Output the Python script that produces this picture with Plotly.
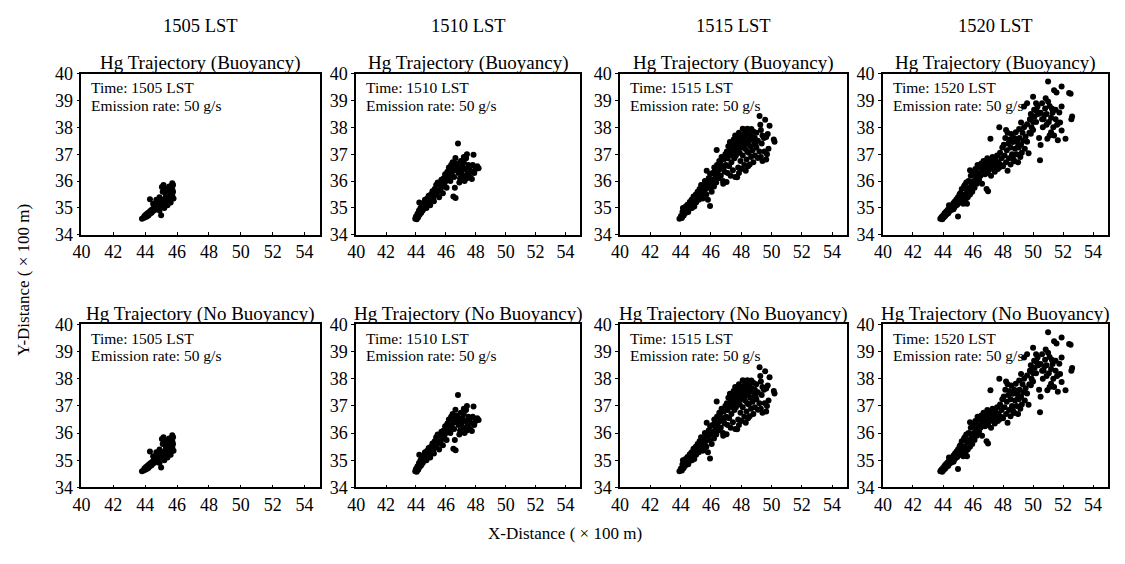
import plotly.graph_objects as go

W, H = 1125, 564

times = ["1505", "1510", "1515", "1520"]
row_titles = ["Hg Trajectory (Buoyancy)", "Hg Trajectory (No Buoyancy)"]
x_ticks = [40, 42, 44, 46, 48, 50, 52, 54]
y_ticks = [34, 35, 36, 37, 38, 39, 40]

# ---- 1505 LST point cloud (x, y in 100 m) ----
x_1505 = [43.8, 43.9, 44.0, 43.95, 44.1, 44.05, 44.2, 44.15, 44.3, 44.25, 44.4, 44.35, 44.5, 44.45, 44.6,
          44.55, 44.7, 44.65, 44.8, 44.75, 44.9, 44.85, 45.0, 44.95, 45.1, 45.05, 45.2, 45.15, 45.3, 45.25,
          45.4, 45.35, 45.5, 45.45, 45.6, 45.55, 45.7, 45.65, 45.75, 45.7, 45.6, 45.75, 45.7, 45.5, 45.35,
          45.2, 45.05, 45.1, 44.9, 44.7, 44.3, 44.5, 45.0, 45.6, 45.4, 45.2, 44.9, 45.5, 45.3, 45.78, 45.15]
y_1505 = [34.6, 34.62, 34.65, 34.7, 34.68, 34.75, 34.72, 34.8, 34.78, 34.85, 34.82, 34.9, 34.88, 34.95, 34.92,
          35.0, 34.98, 35.05, 35.02, 35.1, 35.08, 35.15, 35.12, 35.2, 35.18, 35.25, 35.22, 35.3, 35.28, 35.35,
          35.32, 35.4, 35.38, 35.45, 35.42, 35.5, 35.48, 35.55, 35.6, 35.7, 35.75, 35.85, 35.92, 35.8, 35.65,
          35.75, 35.78, 35.6, 35.4, 35.3, 35.32, 35.15, 34.73, 35.2, 35.1, 35.0, 34.9, 35.6, 35.5, 35.35, 35.85]

# ---- 1510 LST ----
x_1510 = [43.95, 44.0, 44.05, 44.1, 44.15, 44.2, 44.22, 44.25, 44.3, 44.35, 44.4, 44.45, 44.5, 44.55, 44.6,
          44.65, 44.7, 44.75, 44.8, 44.85, 44.9, 44.95, 45.0, 45.05, 45.1, 45.15, 45.2, 45.25, 45.3, 45.35,
          45.4, 45.45, 45.5, 45.55, 45.6, 45.65, 45.7, 45.75, 45.8, 45.85, 45.9, 45.95, 46.0, 46.05, 46.1,
          46.15, 46.2, 46.25, 46.3, 46.35, 46.4, 46.45, 46.5, 46.55, 46.6, 46.64, 46.65, 46.5, 46.6, 46.7,
          46.75, 46.81, 46.85, 46.9, 46.95,
          47.0, 47.05, 47.1, 47.15, 47.2, 47.25, 47.3, 47.35, 47.41, 47.45, 47.5, 47.55, 47.6, 47.63, 47.7,
          47.74, 47.8, 47.85, 47.9, 48.0, 48.1, 48.19, 47.4, 46.9, 47.2]
y_1510 = [34.6, 34.68, 34.58, 34.78, 34.65, 34.9, 35.2, 34.75, 35.0, 34.82, 35.1, 34.9, 35.18, 34.98, 35.3,
          35.05, 35.0, 35.35, 35.15, 35.45, 35.25, 35.1, 35.5, 35.3, 35.62, 35.4, 35.25, 35.7, 35.5, 35.85,
          35.55, 35.95, 35.65, 35.4, 35.9, 35.7, 36.05, 35.8, 35.55, 36.1, 35.9, 36.25, 36.0, 35.75, 36.35,
          36.1, 36.5, 36.2, 36.0, 36.6, 36.3, 36.7, 36.4, 36.15, 36.55, 36.86, 35.37, 35.42, 35.75, 36.4,
          36.65, 37.4, 36.3, 36.5, 36.1,
          36.75, 36.35, 36.55, 36.2, 36.7, 36.0, 36.45, 36.85, 37.0, 36.3, 36.6, 36.15, 36.5, 36.14, 36.35,
          36.08, 36.6, 36.98, 36.3, 36.45, 36.55, 36.48, 36.1, 35.95, 36.9]

# ---- 1515 LST ----
x_1515 = [43.92, 44.02, 44.08, 44.12, 44.2, 44.25, 44.3, 44.33, 44.4, 44.45, 44.48, 44.55, 44.6, 44.62, 44.7,
          44.72, 44.8, 44.85, 44.9, 44.95, 45.0, 45.02, 45.1, 45.12, 45.2, 45.25, 45.3, 45.35, 45.4, 45.45,
          45.5, 45.55, 45.6, 45.65, 45.7, 45.72, 45.75, 45.8, 45.85, 45.9, 45.94, 45.95, 46.0, 46.05, 46.1,
          46.15, 46.2, 46.22, 46.3, 46.35, 46.38, 46.4, 46.45, 46.5, 46.55, 46.6, 46.65, 46.7, 46.75, 46.8,
          46.81, 46.85, 46.9, 46.95, 47.0, 47.03, 44.15, 44.5, 44.75, 45.05, 45.3, 45.6, 45.9, 46.25, 46.6,
          46.9,
          47.05, 47.1, 47.15, 47.2, 47.25, 47.3, 47.4, 47.45, 47.5, 47.55, 47.6, 47.65, 47.7, 47.75, 47.8,
          47.85, 47.9, 47.95, 48.0, 48.05, 48.1, 48.15, 48.2, 48.25, 48.3, 48.34, 48.4, 48.45, 48.5, 48.6,
          48.67, 48.7, 48.8, 48.85, 48.9, 49.0, 49.1, 49.21, 49.26, 49.3, 49.4, 49.5, 49.58, 49.65, 49.87,
          50.2, 50.15, 49.75,
          47.1, 47.2, 47.3, 47.35, 47.45, 47.55, 47.6, 47.73, 47.8, 47.85, 47.95, 48.0, 48.1, 48.2, 48.3,
          48.35, 48.45, 48.5, 48.56, 48.65, 48.75, 48.8, 48.9, 49.0, 49.1, 49.2, 49.3, 49.4, 49.54, 49.65,
          49.7, 49.8,
          47.4, 47.9, 48.25, 48.6, 48.95, 49.35, 47.65, 48.4]
y_1515 = [34.6, 34.7, 34.62, 34.85, 34.72, 34.95, 34.8, 35.05, 34.88, 35.12, 34.96, 35.0, 35.22, 34.98, 35.1,
          35.3, 35.18, 35.42, 35.05, 35.3, 35.5, 35.2, 35.38, 35.6, 35.3, 35.7, 35.45, 35.85, 35.55, 35.35,
          35.8, 35.6, 36.0, 35.7, 35.5, 36.38, 35.9, 35.3, 36.1, 35.75, 35.07, 36.25, 35.95, 35.6, 36.3,
          36.05, 35.8, 36.5, 36.2, 35.95, 37.16, 36.6, 36.35, 36.1, 36.75, 36.45, 36.2, 36.9, 36.55, 36.0,
          35.9, 36.8, 36.35, 37.0, 36.6, 35.96, 35.0, 34.85, 35.0, 35.35, 35.65, 35.45, 36.0, 36.35, 36.7,
          36.55,
          37.1, 36.85, 37.3, 37.0, 37.45, 37.15, 37.35, 37.05, 37.55, 37.25, 37.7, 37.4, 37.15, 37.6, 37.35,
          37.8, 37.5, 37.25, 37.7, 37.45, 37.95, 37.6, 37.35, 37.8, 37.55, 37.7, 37.95, 37.4, 37.75, 37.55,
          37.94, 37.65, 37.85, 37.45, 37.6, 37.8, 37.5, 38.42, 38.1, 37.9, 37.7, 37.6, 38.28, 37.64, 38.06,
          37.46, 37.55, 37.75,
          36.3, 36.55, 36.2, 36.7, 36.4, 36.85, 36.15, 36.14, 36.5, 36.3, 36.75, 36.45, 36.95, 36.6, 36.38,
          36.8, 36.55, 37.05, 36.62, 36.9, 37.15, 36.7, 36.95, 37.25, 36.86, 37.1, 36.9, 36.75, 37.1, 36.8,
          37.0, 37.2,
          36.95, 37.05, 37.2, 37.3, 37.35, 37.4, 36.95, 37.1]

# ---- 1520 LST ----
x_1520 = [43.82, 43.9, 43.95, 44.0, 44.05, 44.1, 44.15, 44.2, 44.25, 44.3, 44.35, 44.4, 44.45, 44.5, 44.55,
          44.6, 44.65, 44.7, 44.75, 44.8, 44.85, 44.9, 44.95, 45.0, 45.0, 45.05, 45.1, 45.15, 44.4, 44.7,
          45.15, 45.2, 45.25, 45.3, 45.35, 45.4, 45.45, 45.5, 45.55, 45.6, 45.6, 45.65, 45.7, 45.75, 45.8,
          45.85, 45.9, 45.95, 46.0, 46.05, 46.1, 46.15, 46.2, 46.25, 46.3, 46.35, 46.4, 46.45, 46.5, 46.55,
          46.6, 46.9, 47.0, 45.8, 45.45, 46.3,
          46.65, 46.7, 46.75, 46.8, 46.85, 46.9, 46.95, 47.0, 47.05, 47.1, 47.15, 47.2, 47.25, 47.3, 47.35,
          47.4, 47.45, 47.5, 47.55, 47.6, 47.65, 47.7, 47.75, 47.8, 47.85, 47.9, 47.95, 48.0, 47.16, 47.75,
          48.05, 48.1, 48.15, 48.2, 48.25, 48.3, 48.3, 48.35, 48.4, 48.45, 48.5, 48.5, 48.55, 48.6, 48.65,
          48.7, 48.75, 48.75, 48.8, 48.85, 48.9, 48.95, 49.0, 49.05, 49.07, 49.1, 49.15, 49.2, 49.2, 49.25,
          49.3, 49.35, 49.4, 49.45, 49.5, 49.6, 49.6, 49.7, 49.75, 49.8, 49.85, 49.9, 48.2, 49.0, 48.6,
          50.0, 50.0, 50.07, 50.1, 50.2, 50.3, 50.35, 50.4, 50.46, 50.5, 50.5, 50.6, 50.65, 50.7, 50.8,
          50.84, 50.9, 50.95, 51.0, 51.0, 51.05, 51.1, 51.2, 51.2, 51.3, 51.35, 51.4, 51.4, 51.5, 51.56,
          51.6, 51.65, 51.8, 51.9, 51.9, 51.9, 52.16, 52.4, 52.5, 52.55, 52.6, 49.4, 49.6, 49.85, 50.2,
          50.6, 51.1, 50.9, 51.5, 51.75, 50.0, 49.8, 50.25, 50.75, 51.25]
y_1520 = [34.6, 34.66, 34.58, 34.72, 34.64, 34.8, 34.7, 34.86, 34.76, 34.92, 34.8, 34.98, 34.88, 35.05, 34.92,
          35.1, 34.98, 35.18, 35.02, 35.25, 35.08, 35.32, 35.12, 35.4, 34.68, 35.2, 35.5, 35.28, 35.1, 34.95,
          35.55, 35.2, 35.7, 35.4, 35.15, 35.8, 35.5, 35.3, 35.95, 35.65, 35.15, 35.4, 36.0, 35.75, 35.5,
          36.2, 35.85, 35.6, 36.3, 36.0, 35.75, 36.45, 36.15, 35.9, 36.6, 36.3, 36.05, 36.5, 36.2, 36.65,
          35.9, 35.7, 35.62, 36.4, 35.85, 36.0,
          36.4, 36.75, 36.55, 36.25, 36.65, 36.45, 36.85, 36.3, 36.6, 36.75, 36.45, 36.2, 36.65, 36.9, 36.5,
          36.7, 36.35, 36.8, 36.55, 36.95, 36.45, 36.7, 36.5, 37.05, 36.6, 36.85, 37.25, 36.55, 37.58, 38.0,
          37.35, 36.95, 37.6, 36.7, 37.15, 36.38, 37.8, 37.4, 36.85, 37.55, 36.62, 37.25, 37.75, 37.0, 37.45,
          36.8, 37.6, 36.74, 37.2, 37.82, 37.0, 37.45, 36.7, 37.25, 37.94, 37.6, 36.9, 38.18, 37.35, 37.05,
          37.8, 37.5, 38.0, 37.2, 37.65, 38.12, 37.46, 37.04, 37.8, 38.3, 37.76, 38.0, 37.9, 37.3, 36.95,
          39.14, 37.9, 38.66, 38.4, 38.2, 38.78, 38.5, 37.6, 36.77, 38.54, 37.34, 38.3, 38.0, 38.3, 38.7,
          39.08, 38.5, 37.58, 39.71, 38.96, 38.2, 37.7, 38.36, 37.82, 38.54, 38.0, 39.38, 37.7, 38.66, 39.3,
          38.1, 37.52, 38.18, 39.52, 38.78, 37.88, 37.58, 39.28, 39.25, 38.3, 38.4, 38.78, 38.9, 38.5, 38.9,
          38.9, 38.8, 38.1, 38.3, 38.55, 38.2, 38.3, 38.6, 38.45, 38.7]

xs = [x_1505, x_1510, x_1515, x_1520]
ys = [y_1505, y_1510, y_1515, y_1520]

# panel pixel boxes (left, right) and rows (top, bottom)
cols_px = [(73, 314), (350, 576), (616, 845), (881, 1108)]
rows_px = [(66, 233), (326, 495)]

FONT = "Liberation Serif"
fig = go.Figure()
annotations = []
layout = dict(width=W, height=H, margin=dict(l=0, r=0, t=0, b=0),
              paper_bgcolor="white", plot_bgcolor="white", showlegend=False,
              font=dict(family=FONT, color="black", size=17))

k = 0
for r, (top, bot) in enumerate(rows_px):
    for c, (left, right) in enumerate(cols_px):
        k += 1
        xa = "xaxis" if k == 1 else f"xaxis{k}"
        ya = "yaxis" if k == 1 else f"yaxis{k}"
        xr = "x" if k == 1 else f"x{k}"
        yr = "y" if k == 1 else f"y{k}"
        fig.add_trace(go.Scatter(x=xs[c], y=ys[c], mode="markers",
                                 marker=dict(color="black", size=6, line=dict(width=0)),
                                 xaxis=xr, yaxis=yr, hoverinfo="skip"))
        layout[xa] = dict(domain=[left / W, right / W], range=[40, 55], anchor=yr,
                          tickvals=x_ticks, ticktext=[str(t) for t in x_ticks],
                          showline=True, linecolor="black", linewidth=1.5, mirror=True,
                          ticks="inside", ticklen=3, tickcolor="black", showgrid=False,
                          zeroline=False, tickfont=dict(family=FONT, size=18, color="black"))
        layout[ya] = dict(domain=[1 - bot / H, 1 - top / H], range=[34, 40], anchor=xr,
                          tickvals=y_ticks, ticktext=[str(t) for t in y_ticks],
                          showline=True, linecolor="black", linewidth=1.5, mirror=True,
                          ticks="outside", ticklen=3, tickcolor="black", showgrid=False,
                          zeroline=False, tickfont=dict(family=FONT, size=18, color="black"))
        cx = (left + right) / 2 / W
        annotations.append(dict(text=row_titles[r], x=cx, y=1 - (top - 11) / H, xref="paper", yref="paper",
                                xanchor="center", yanchor="middle", showarrow=False,
                                font=dict(family=FONT, size=19)))
        annotations.append(dict(text=f"Time: {times[c]} LST", x=(left + 8) / W, y=1 - (top + 14.5) / H,
                                xref="paper", yref="paper", xanchor="left", yanchor="middle",
                                showarrow=False, font=dict(family=FONT, size=15.5)))
        annotations.append(dict(text="Emission rate: 50 g/s", x=(left + 8) / W, y=1 - (top + 32.5) / H,
                                xref="paper", yref="paper", xanchor="left", yanchor="middle",
                                showarrow=False, font=dict(family=FONT, size=15.5)))

for c, (left, right) in enumerate(cols_px):
    annotations.append(dict(text=f"{times[c]} LST", x=(left + right) / 2 / W, y=1 - 17 / H,
                            xref="paper", yref="paper", xanchor="center", yanchor="middle",
                            showarrow=False, font=dict(family=FONT, size=18.5)))

annotations.append(dict(text="X-Distance ( × 100 m)", x=560 / W, y=1 - 543 / H, xref="paper", yref="paper",
                        xanchor="center", yanchor="middle", showarrow=False, font=dict(family=FONT, size=17)))
annotations.append(dict(text="Y-Distance ( × 100 m)", x=14 / W, y=1 - 280 / H, xref="paper", yref="paper",
                        xanchor="center", yanchor="middle", textangle=-90, showarrow=False,
                        font=dict(family=FONT, size=17)))

layout["annotations"] = annotations
fig.update_layout(**layout)
fig.write_html("out.html")
